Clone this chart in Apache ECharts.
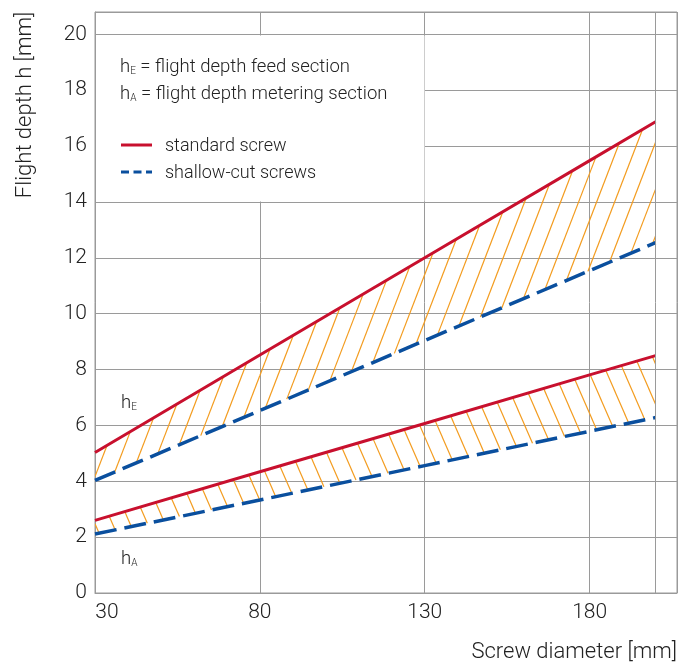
<!DOCTYPE html>
<html>
<head>
<meta charset="utf-8">
<script src="https://cdn.jsdelivr.net/npm/echarts@6/dist/echarts.min.js"></script>
<style>html,body{margin:0;padding:0;background:#fff}#c{width:694px;height:664px}</style>
</head>
<body>
<div id="c"></div>
<script>
// ---- data ----
const diameters = [30, 80, 130, 180, 200];
const standardFeed = [5.03, 8.52, 12.0, 15.48, 16.87];
const shallowFeed = [4.03, 6.53, 9.04, 11.54, 12.54];
const standardMetering = [2.60, 4.34, 6.07, 7.81, 8.50];
const shallowMetering = [2.11, 3.33, 4.56, 5.79, 6.28];
const xTickLabels = [30, 80, 130, 180];
const extraGridX = [200];
const yTickLabels = [0, 2, 4, 6, 8, 10, 12, 14, 16, 18, 20];

const FONT = 'Roboto';
const TEXT = '#222';
const GRID = '#9a9a9a';
const RED = '#c8102e';
const BLUE = '#0a4f9e';
const ORANGE = '#f39c1f';

function pairs(xs, ys) { return xs.map((x, i) => [x, ys[i]]); }

// hatch band between two curves, clipped per segment, drawn via custom series
function hatchSeries(top, bottom, slope, spacing, phase, up) {
  return {
    type: 'custom', silent: true, z: 1, clip: true,
    data: diameters.map((d, i) => [d, top[i], bottom[i]]),
    encode: { x: 0, y: [1, 2] },
    renderItem: function (params, api) {
      const i = params.dataIndex;
      if (i >= diameters.length - 1) return null;
      const poly = [
        api.coord([diameters[i], top[i]]),
        api.coord([diameters[i + 1], top[i + 1]]),
        api.coord([diameters[i + 1], bottom[i + 1]]),
        api.coord([diameters[i], bottom[i]])
      ];
      const f = p => up ? p[0] + p[1] / slope : p[0] - p[1] / slope;
      const fs = poly.map(f);
      const fmin = Math.min.apply(null, fs), fmax = Math.max.apply(null, fs);
      const children = [];
      let c = phase + Math.ceil((fmin - phase) / spacing) * spacing;
      for (; c <= fmax; c += spacing) {
        const pts = [];
        for (let k = 0; k < 4; k++) {
          const P = poly[k], Q = poly[(k + 1) % 4];
          const gP = f(P) - c, gQ = f(Q) - c;
          if ((gP <= 0 && gQ >= 0) || (gP >= 0 && gQ <= 0)) {
            if (gP === gQ) continue;
            const t = gP / (gP - gQ);
            pts.push([P[0] + t * (Q[0] - P[0]), P[1] + t * (Q[1] - P[1])]);
          }
        }
        if (pts.length < 2) continue;
        pts.sort((a, b) => a[1] - b[1]);
        const a = pts[0], b = pts[pts.length - 1];
        if (Math.hypot(a[0] - b[0], a[1] - b[1]) < 0.5) continue;
        children.push({ type: 'line', shape: { x1: a[0], y1: a[1], x2: b[0], y2: b[1] },
          style: { stroke: ORANGE, lineWidth: 1.2 } });
      }
      return { type: 'group', children: children };
    }
  };
}

const chart = echarts.init(document.getElementById('c'), null, { renderer: 'canvas' });

const tickFont = { fontFamily: FONT, fontWeight: 300, fontSize: 21, color: TEXT };
const sub = (big, small) => ({
  h: { fontFamily: FONT, fontWeight: 300, fontSize: big, fill: TEXT },
  s: { fontFamily: FONT, fontWeight: 300, fontSize: small, fill: TEXT, padding: [9, 0, 0, 0] },
  t: { fontFamily: FONT, fontWeight: 300, fontSize: big, fill: TEXT }
});

const option = {
  animation: false,
  grid: { left: 95, right: 17, top: 12, bottom: 71, show: true, borderColor: GRID, borderWidth: 1, backgroundColor: 'transparent' },
  xAxis: {
    type: 'value', min: 30, max: 206.5, interval: 50,
    axisLine: { show: true, lineStyle: { color: GRID, width: 1 } },
    axisTick: { show: false },
    splitLine: { show: true, lineStyle: { color: GRID, width: 1 } },
    axisLabel: {
      margin: 9, showMaxLabel: false,
      formatter: v => {
        if (!xTickLabels.includes(v)) return '';
        return v === xTickLabels[0] ? '{p|' + v + '}' : '{n|' + v + '}';
      },
      rich: {
        p: Object.assign({ padding: [0, 0, 0, 24] }, tickFont),
        n: Object.assign({}, tickFont)
      }
    }
  },
  yAxis: {
    type: 'value', min: 0, max: 20.8, interval: 2,
    axisLine: { show: true, lineStyle: { color: GRID, width: 1 } },
    axisTick: { show: false },
    splitLine: { show: true, lineStyle: { color: GRID, width: 1 } },
    axisLabel: Object.assign({
      margin: 8, showMaxLabel: false,
      formatter: v => yTickLabels.includes(v) ? String(v) : ''
    }, tickFont)
  },
  series: [
    hatchSeries(standardFeed, shallowFeed, 2.6, 18, 692.3 % 18, true),
    hatchSeries(standardMetering, shallowMetering, 2.3, 17.5, ((147.3 % 17.5) + 17.5) % 17.5, false),
    { name: 'standard screw', type: 'line', data: pairs(diameters, standardFeed), symbol: 'none', z: 3,
      lineStyle: { color: RED, width: 3 } },
    { name: 'shallow-cut screws', type: 'line', data: pairs(diameters, shallowFeed), symbol: 'none', z: 3,
      lineStyle: { color: BLUE, width: 3.5, type: [22, 8] } },
    { name: 'standard screw A', type: 'line', data: pairs(diameters, standardMetering), symbol: 'none', z: 3,
      lineStyle: { color: RED, width: 3 } },
    { name: 'shallow-cut screws A', type: 'line', data: pairs(diameters, shallowMetering), symbol: 'none', z: 3,
      lineStyle: { color: BLUE, width: 3.5, type: [22, 8] },
      markLine: {
        silent: true, symbol: 'none', label: { show: false },
        lineStyle: { color: GRID, type: 'solid', width: 1 },
        data: extraGridX.map(x => ({ xAxis: x }))
      } }
  ],
  graphic: [
    { type: 'rect', z: 5, shape: { x: 96, y: 35.5, width: 328.5, height: 166 }, style: { fill: '#fff' } },
    { type: 'text', z: 6, x: 120, y: 67, style: {
        text: '{h|h}{s|E}{t| = flight depth feed section}', verticalAlign: 'middle', rich: sub(18.5, 10) } },
    { type: 'text', z: 6, x: 120, y: 94, style: {
        text: '{h|h}{s|A}{t| = flight depth metering section}', verticalAlign: 'middle', rich: sub(18.5, 10) } },
    { type: 'line', z: 6, shape: { x1: 121, y1: 145, x2: 152, y2: 145 }, style: { stroke: RED, lineWidth: 3 } },
    { type: 'line', z: 6, shape: { x1: 121, y1: 172, x2: 152, y2: 172 }, style: { stroke: BLUE, lineWidth: 3, lineDash: [8, 4.5] } },
    { type: 'text', z: 6, x: 165, y: 146, style: { text: 'standard screw', fontFamily: FONT, fontWeight: 300, fontSize: 18, fill: TEXT, verticalAlign: 'middle' } },
    { type: 'text', z: 6, x: 165, y: 173, style: { text: 'shallow-cut screws', fontFamily: FONT, fontWeight: 300, fontSize: 18, fill: TEXT, verticalAlign: 'middle' } },
    { type: 'text', z: 6, x: 121, y: 403, style: { text: '{h|h}{s|E}', verticalAlign: 'middle', rich: sub(18.5, 10) } },
    { type: 'text', z: 6, x: 121, y: 559, style: { text: '{h|h}{s|A}', verticalAlign: 'middle', rich: sub(18.5, 10) } },
    { type: 'text', z: 6, x: 25, y: 105, rotation: Math.PI / 2, style: {
        text: 'Flight depth h [mm]', fontFamily: FONT, fontWeight: 300, fontSize: 22, fill: TEXT,
        align: 'center', verticalAlign: 'middle' } },
    { type: 'text', z: 6, x: 677, y: 652, style: {
        text: 'Screw diameter [mm]', fontFamily: FONT, fontWeight: 300, fontSize: 22, fill: TEXT,
        align: 'right', verticalAlign: 'middle' } }
  ]
};
chart.setOption(option);
</script>
</body>
</html>
